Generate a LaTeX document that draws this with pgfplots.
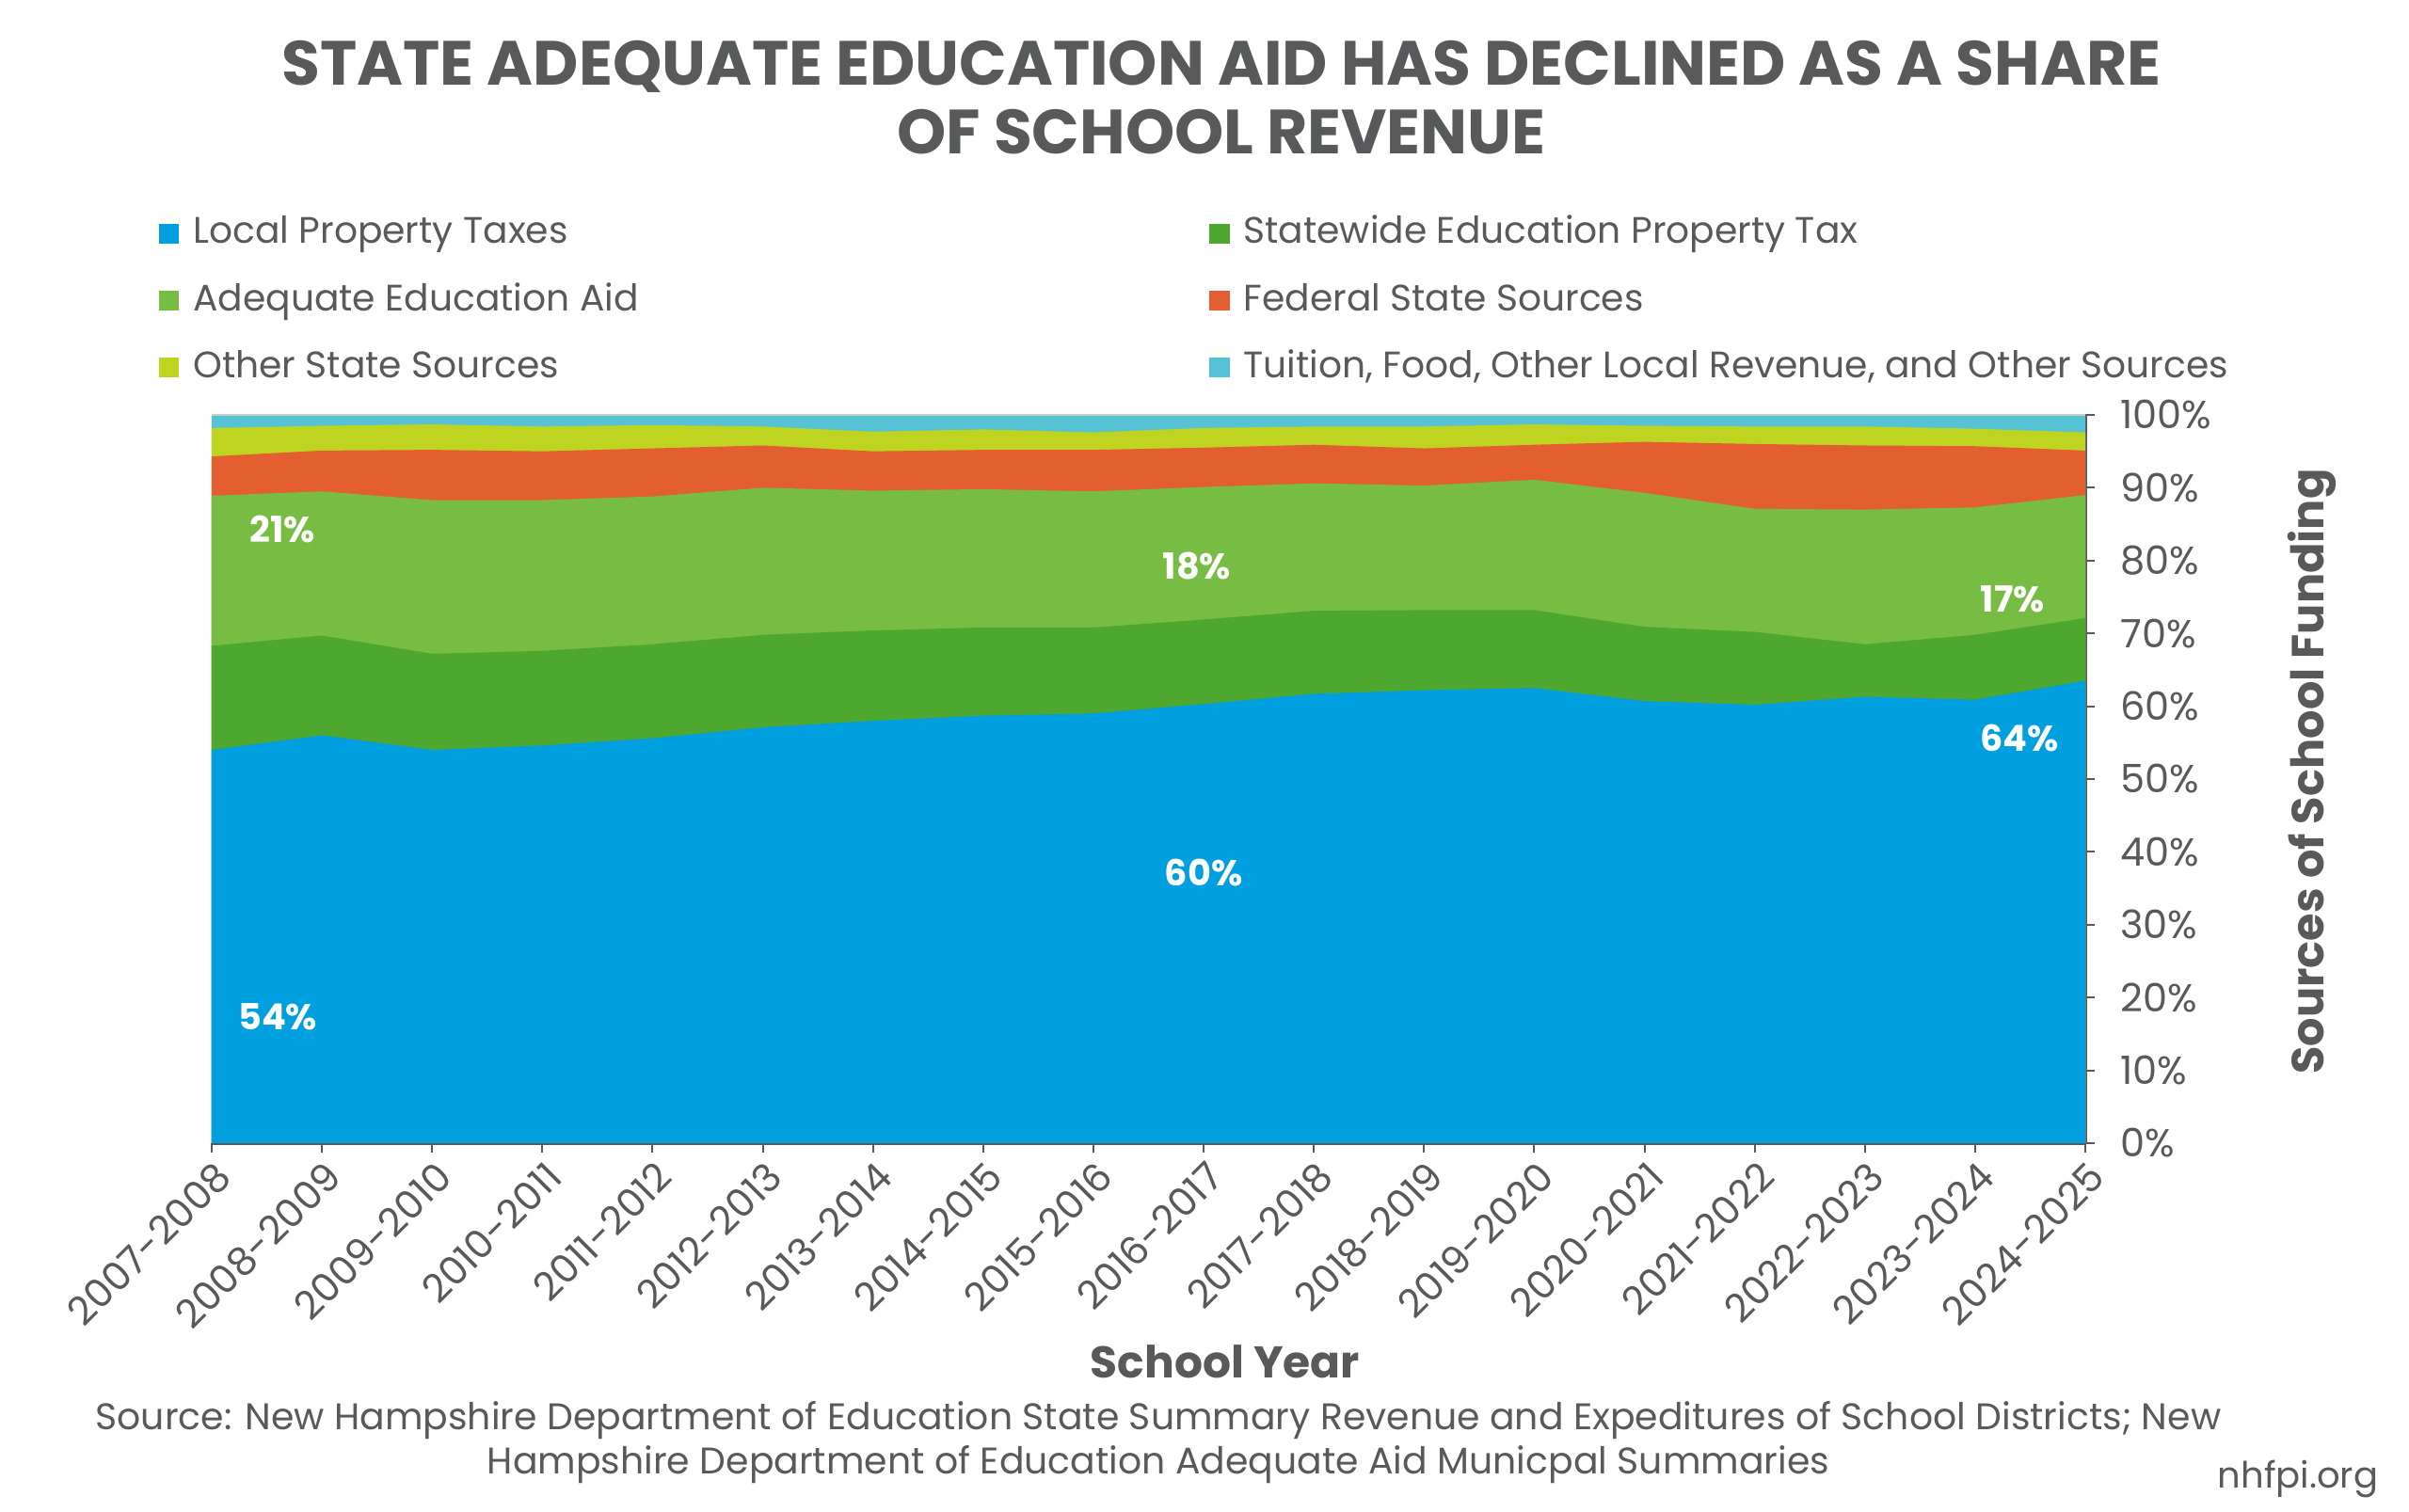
\documentclass[border=0pt]{standalone}
\usepackage{fontspec}
\setmainfont{Poppins}
\usepackage{pgfplots}
\pgfplotsset{compat=1.18}
\definecolor{cBlue}{HTML}{009FDF}
\definecolor{cDkGreen}{HTML}{4EA72E}
\definecolor{cLtGreen}{HTML}{77BC43}
\definecolor{cOrange}{HTML}{E45F30}
\definecolor{cYellow}{HTML}{BFD420}
\definecolor{cCyan}{HTML}{55C3D3}
\definecolor{cGray}{HTML}{58595B}
\begin{document}
\begin{tikzpicture}[x=1bp,y=1bp]
\begin{axis}[
  at={(0,0)}, anchor=south west,
  scale only axis, width=597.3bp, height=232.2bp,
  xmin=0, xmax=17, ymin=0, ymax=100,
  axis x line=bottom, axis y line=right,
  axis line style={draw=cGray, line width=1bp, -},
  xtick={0,...,17},
  xticklabels={2007-2008,2008-2009,2009-2010,2010-2011,2011-2012,2012-2013,2013-2014,2014-2015,2015-2016,2016-2017,2017-2018,2018-2019,2019-2020,2020-2021,2021-2022,2022-2023,2023-2024,2024-2025},
  ytick={0,10,...,100},
  yticklabel={\pgfmathprintnumber{\tick}\%},
  /pgf/number format/assume math mode=true,
  tick style={draw=cGray, line width=0.6bp},
  major tick length=3bp,
  tick align=outside,
  ticklabel style={font=\fontsize{12.5}{14}\selectfont, text=cGray},
  xticklabel style={rotate=45, anchor=east, inner sep=0pt, yshift=-6.5bp, xshift=-1bp},
  yticklabel style={anchor=west, inner sep=0pt, xshift=8bp},
  legend columns=2,
  reverse legend,
  legend cell align=left,
  legend style={at={(axis description cs:-0.0281,1.2783)}, anchor=north west, draw=none, fill=none,
    inner sep=0pt, outer sep=0pt,
    font=\fontsize{11.8}{13}\selectfont, text=cGray,
    cells={anchor=base west, text height=8bp, text depth=2.5bp, inner sep=0pt},
    row sep=7.9bp,
    /tikz/every odd column/.append style={column sep=2.5bp},
    /tikz/every even column/.append style={column sep=180bp}},
  legend image code/.code={\fill[#1] (0bp,0bp) rectangle (6.4bp,6.4bp);},
]
% cumulative tops of each layer, drawn from the top layer down
\addplot[fill=cCyan, draw=none] coordinates {(0,100) (1,100) (2,100) (3,100) (4,100) (5,100) (6,100) (7,100) (8,100) (9,100) (10,100) (11,100) (12,100) (13,100) (14,100) (15,100) (16,100) (17,100)} \closedcycle;
\addlegendentry{Tuition, Food, Other Local Revenue, and Other Sources}
\addplot[fill=cYellow, draw=none] coordinates {(0,98.2) (1,98.5) (2,98.7) (3,98.4) (4,98.6) (5,98.4) (6,97.7) (7,98.0) (8,97.6) (9,98.2) (10,98.4) (11,98.4) (12,98.7) (13,98.5) (14,98.4) (15,98.4) (16,98.1) (17,97.6)} \closedcycle;
\addlegendentry{Other State Sources}
\addplot[fill=cOrange, draw=none] coordinates {(0,94.3) (1,95.1) (2,95.2) (3,95.0) (4,95.4) (5,95.8) (6,95.0) (7,95.2) (8,95.2) (9,95.5) (10,95.9) (11,95.4) (12,95.9) (13,96.3) (14,96.0) (15,95.8) (16,95.7) (17,95.1)} \closedcycle;
\addlegendentry{Federal State Sources}
\addplot[fill=cLtGreen, draw=none] coordinates {(0,88.9) (1,89.5) (2,88.3) (3,88.3) (4,88.8) (5,90.0) (6,89.6) (7,89.8) (8,89.5) (9,90.1) (10,90.6) (11,90.3) (12,91.1) (13,89.3) (14,87.1) (15,87.0) (16,87.3) (17,89.0)} \closedcycle;
\addlegendentry{Adequate Education Aid}
\addplot[fill=cDkGreen, draw=none] coordinates {(0,68.3) (1,69.7) (2,67.2) (3,67.6) (4,68.5) (5,69.8) (6,70.4) (7,70.8) (8,70.8) (9,71.9) (10,73.1) (11,73.2) (12,73.2) (13,70.9) (14,70.2) (15,68.5) (16,69.8) (17,72.1)} \closedcycle;
\addlegendentry{Statewide Education Property Tax}
\addplot[fill=cBlue, draw=none] coordinates {(0,54.0) (1,56.0) (2,54.0) (3,54.6) (4,55.6) (5,57.1) (6,58.0) (7,58.7) (8,59.0) (9,60.3) (10,61.7) (11,62.2) (12,62.5) (13,60.7) (14,60.2) (15,61.3) (16,60.9) (17,63.5)} \closedcycle;
\addlegendentry{Local Property Taxes}
\draw[black!20, line width=0.6bp] (axis cs:0,100) -- (axis cs:17,100);
\node[text=white, font=\fontsize{11.5}{13}\selectfont\bfseries] at (axis cs:0.6,17.4) {54\%};
\node[text=white, font=\fontsize{11.5}{13}\selectfont\bfseries] at (axis cs:9.0,37.2) {60\%};
\node[text=white, font=\fontsize{11.5}{13}\selectfont\bfseries] at (axis cs:16.4,55.6) {64\%};
\node[text=white, font=\fontsize{11.5}{13}\selectfont\bfseries] at (axis cs:0.64,84.3) {21\%};
\node[text=white, font=\fontsize{11.5}{13}\selectfont\bfseries] at (axis cs:8.94,79.3) {18\%};
\node[text=white, font=\fontsize{11.5}{13}\selectfont\bfseries] at (axis cs:16.34,74.7) {17\%};
\end{axis}
\node[anchor=base, text=cGray, font=\fontsize{20}{22}\selectfont\bfseries] at (321.9,337.3) {STATE ADEQUATE EDUCATION AID HAS DECLINED AS A SHARE};
\node[anchor=base, text=cGray, font=\fontsize{20}{22}\selectfont\bfseries] at (321.9,315.5) {OF SCHOOL REVENUE};
\node[rotate=90, text=cGray, font=\fontsize{14.4}{16}\selectfont\bfseries] at (669.6,118.5) {Sources of School Funding};
\node[text=cGray, font=\fontsize{14.2}{16}\selectfont\bfseries] at (323.1,-69.7) {School Year};
\node[anchor=base, text=cGray, font=\fontsize{11.85}{13}\selectfont] at (301.8,-91.5) {Source: New Hampshire Department of Education State Summary Revenue and Expeditures of School Districts; New};
\node[anchor=base, text=cGray, font=\fontsize{11.85}{13}\selectfont] at (301.8,-105.5) {Hampshire Department of Education Adequate Aid Municpal Summaries};
\node[anchor=base east, inner sep=0pt, text=cGray, font=\fontsize{11.6}{13}\selectfont] at (690.9,-110) {nhfpi.org};
\pgfresetboundingbox
\useasboundingbox (-67.5,-117.6) rectangle (700.5,364.5);
\end{tikzpicture}
\end{document}
